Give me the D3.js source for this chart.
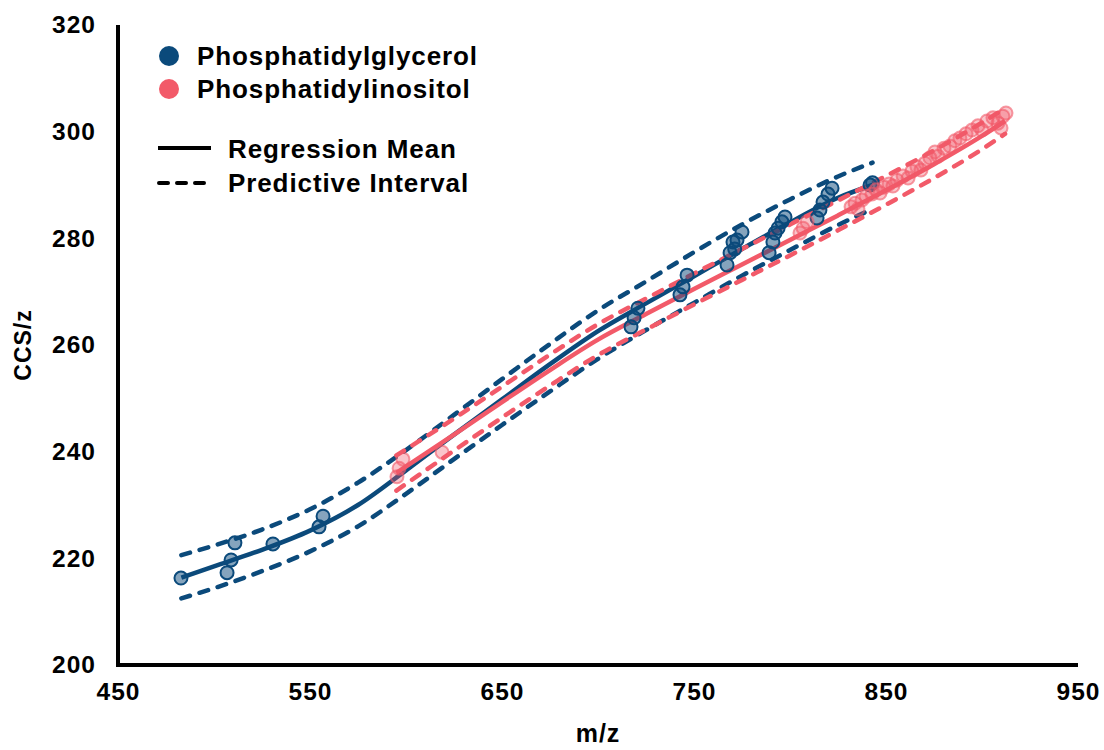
<!DOCTYPE html>
<html>
<head>
<meta charset="utf-8">
<script src="https://cdn.jsdelivr.net/npm/d3@7"></script>
<style>
  body { margin: 0; background: #fff; }
  text { font-family: "Liberation Sans", Arial, sans-serif; font-weight: bold; }
</style>
</head>
<body>
<svg id="chart" width="1104" height="750"></svg>
<script>

// Phosphatidylglycerol points (m/z, CCS/z)
var pgMz  = [482.8, 506.8, 508.9, 510.9, 530.7, 554.7, 556.8,
             717.2, 718.8, 720.8, 742.7, 744.3, 746.4,
             767.2, 768.8, 770.3, 771.2, 772.4, 775.0,
             789.1, 791.1, 792.2, 793.8, 795.8, 797.4,
             814.1, 815.6, 817.2, 819.8, 821.9, 841.7, 843.0];
var pgCcs = [216.3, 217.3, 219.7, 222.9, 222.7, 225.9, 227.9,
             263.4, 265.1, 266.9, 269.4, 270.9, 273.1,
             275.0, 277.3, 279.3, 278.0, 279.7, 281.2,
             277.3, 279.3, 281.0, 281.9, 283.1, 284.0,
             283.8, 285.3, 286.8, 288.3, 289.4, 290.0, 290.4];

// Phosphatidylinositol points
var piMz  = [595.3, 596.4, 598.4, 618.8, 805.2, 806.8, 808.9,
             831.8, 833.9, 835.4, 837.5, 839.6, 842.7, 844.8, 846.9, 849.0, 851.6,
             853.6, 855.7, 858.9, 861.5, 863.5, 866.1, 868.2, 870.3, 872.9, 875.5,
             877.1, 880.2, 883.3, 885.9, 888.5, 891.7, 894.8, 897.9, 900.0, 902.6,
             905.7, 908.3, 910.9, 912.5, 909.9];
var piCcs = [235.3, 236.9, 238.6, 239.9, 281.0, 281.9, 283.1,
             285.9, 286.6, 285.5, 287.2, 287.9, 288.3, 289.1, 288.5, 289.6, 290.2,
             289.8, 290.9, 291.7, 291.3, 292.6, 293.4, 292.8, 294.1, 295.1, 296.2,
             295.4, 296.9, 297.3, 298.3, 298.8, 299.6, 300.3, 301.1, 300.3, 302.0,
             302.6, 301.6, 302.9, 303.5, 300.7];

// regression mean and predictive interval, read at knots
var pgKnots = [483, 500, 525, 550, 575, 600, 625, 650, 675, 700, 725, 750, 775, 800, 825, 843];
var pgMean  = [216.4, 218.5, 221.6, 225.2, 230.0, 236.5, 243.2, 249.8, 256.4, 262.6, 267.8, 272.9, 278.0, 283.0, 287.6, 290.0];
var pgUpper = [220.6, 222.4, 225.4, 229.2, 234.2, 240.3, 246.9, 253.6, 260.2, 266.5, 271.9, 277.4, 282.6, 287.3, 291.6, 294.2];
var pgLower = [212.5, 214.4, 217.6, 221.3, 226.0, 232.1, 238.6, 245.0, 251.3, 257.4, 262.8, 267.9, 273.0, 277.8, 282.5, 285.5];

var piKnots = [595, 625, 650, 675, 700, 725, 750, 775, 800, 825, 850, 875, 900, 912];
var piMean  = [236.0, 243.2, 249.3, 255.3, 261.0, 265.8, 270.5, 275.1, 279.7, 284.3, 289.0, 293.9, 299.2, 302.0];
var piUpper = [239.3, 246.2, 252.2, 258.2, 263.9, 268.7, 273.4, 278.0, 282.6, 287.1, 291.7, 296.5, 301.7, 304.4];
var piLower = [232.7, 240.2, 246.4, 252.4, 258.1, 262.9, 267.6, 272.2, 276.8, 281.5, 286.3, 291.3, 296.7, 299.6];

var xTicks = [450, 550, 650, 750, 850, 950];
var yTicks = [200, 220, 240, 260, 280, 300, 320];

var blue = "#0b4a7b",
    pink = "#f25a69";

var svg = d3.select("#chart");

var x = d3.scaleLinear().domain([450, 950]).range([118, 1078]);
var y = d3.scaleLinear().domain([200, 320]).range([665, 25]);

// axes
var xAxis = d3.axisBottom(x).tickValues(xTicks).tickSize(0).tickPadding(18);
var yAxis = d3.axisLeft(y).tickValues(yTicks).tickSize(0).tickPadding(22);

var gx = svg.append("g")
    .attr("transform", "translate(0,665)")
    .call(xAxis);
var gy = svg.append("g")
    .attr("transform", "translate(118,0)")
    .call(yAxis);

gx.select(".domain").remove();
gy.select(".domain").remove();
svg.selectAll(".tick text")
    .attr("font-size", 24.5)
    .attr("letter-spacing", 1)
    .attr("font-family", "Liberation Sans, Arial, sans-serif")
    .attr("font-weight", "bold")
    .attr("fill", "#000");

svg.append("path")
    .attr("d", "M" + x(450) + "," + y(320) + "V" + y(200) + "H" + x(950))
    .attr("fill", "none")
    .attr("stroke", "#000")
    .attr("stroke-width", 4);

svg.append("text")
    .attr("x", x(700))
    .attr("y", 742)
    .attr("text-anchor", "middle")
    .attr("font-size", 25)
    .attr("letter-spacing", 1)
    .text("m/z");

svg.append("text")
    .attr("transform", "translate(31," + y(260) + ") rotate(-90)")
    .attr("text-anchor", "middle")
    .attr("font-size", 23)
    .attr("letter-spacing", 1)
    .text("CCS/z");

// regression lines
function band(knots, vals) {
    return knots.map(function(k, i) { return [k, vals[i]]; });
}
var line = d3.line()
    .x(function(d) { return x(d[0]); })
    .y(function(d) { return y(d[1]); })
    .curve(d3.curveMonotoneX);

function drawLines(knots, mean, upper, lower, color) {
    [upper, lower].forEach(function(v) {
        svg.append("path")
            .attr("d", line(band(knots, v)))
            .attr("fill", "none")
            .attr("stroke", color)
            .attr("stroke-width", 4.5)
            .attr("stroke-linecap", "round")
            .attr("stroke-dasharray", "9,10");
    });
    svg.append("path")
        .attr("d", line(band(knots, mean)))
        .attr("fill", "none")
        .attr("stroke", color)
        .attr("stroke-width", 4.5);
}

drawLines(pgKnots, pgMean, pgUpper, pgLower, blue);
drawLines(piKnots, piMean, piUpper, piLower, pink);

// points
var pgPts = pgMz.map(function(m, i) { return [m, pgCcs[i]]; });
var piPts = piMz.map(function(m, i) { return [m, piCcs[i]]; });

svg.append("g").selectAll("circle")
    .data(pgPts)
  .enter().append("circle")
    .attr("cx", function(d) { return x(d[0]); })
    .attr("cy", function(d) { return y(d[1]); })
    .attr("r", 6.5)
    .attr("fill", blue)
    .attr("fill-opacity", 0.5)
    .attr("stroke", blue)
    .attr("stroke-width", 2);

svg.append("g").selectAll("circle")
    .data(piPts)
  .enter().append("circle")
    .attr("cx", function(d) { return x(d[0]); })
    .attr("cy", function(d) { return y(d[1]); })
    .attr("r", 6.5)
    .attr("fill", pink)
    .attr("fill-opacity", 0.35)
    .attr("stroke", pink)
    .attr("stroke-opacity", 0.6)
    .attr("stroke-width", 2);

// legend
var legend = svg.append("g");
legend.append("circle").attr("cx", 169).attr("cy", 56).attr("r", 10).attr("fill", blue);
legend.append("circle").attr("cx", 169).attr("cy", 89).attr("r", 10).attr("fill", pink);
legend.selectAll("text.lab")
    .data([["Phosphatidylglycerol", 197, 65], ["Phosphatidylinositol", 197, 98],
           ["Regression Mean", 228, 158], ["Predictive Interval", 228, 192]])
  .enter().append("text")
    .attr("class", "lab")
    .attr("x", function(d) { return d[1]; })
    .attr("y", function(d) { return d[2]; })
    .attr("font-size", 26)
    .attr("letter-spacing", 0.9)
    .text(function(d) { return d[0]; });

legend.append("line")
    .attr("x1", 158).attr("x2", 211).attr("y1", 148).attr("y2", 148)
    .attr("stroke", "#000").attr("stroke-width", 4);
legend.append("line")
    .attr("x1", 159).attr("x2", 211).attr("y1", 183).attr("y2", 183)
    .attr("stroke", "#000").attr("stroke-width", 4)
    .attr("stroke-linecap", "round")
    .attr("stroke-dasharray", "9,9");

</script>
</body>
</html>
